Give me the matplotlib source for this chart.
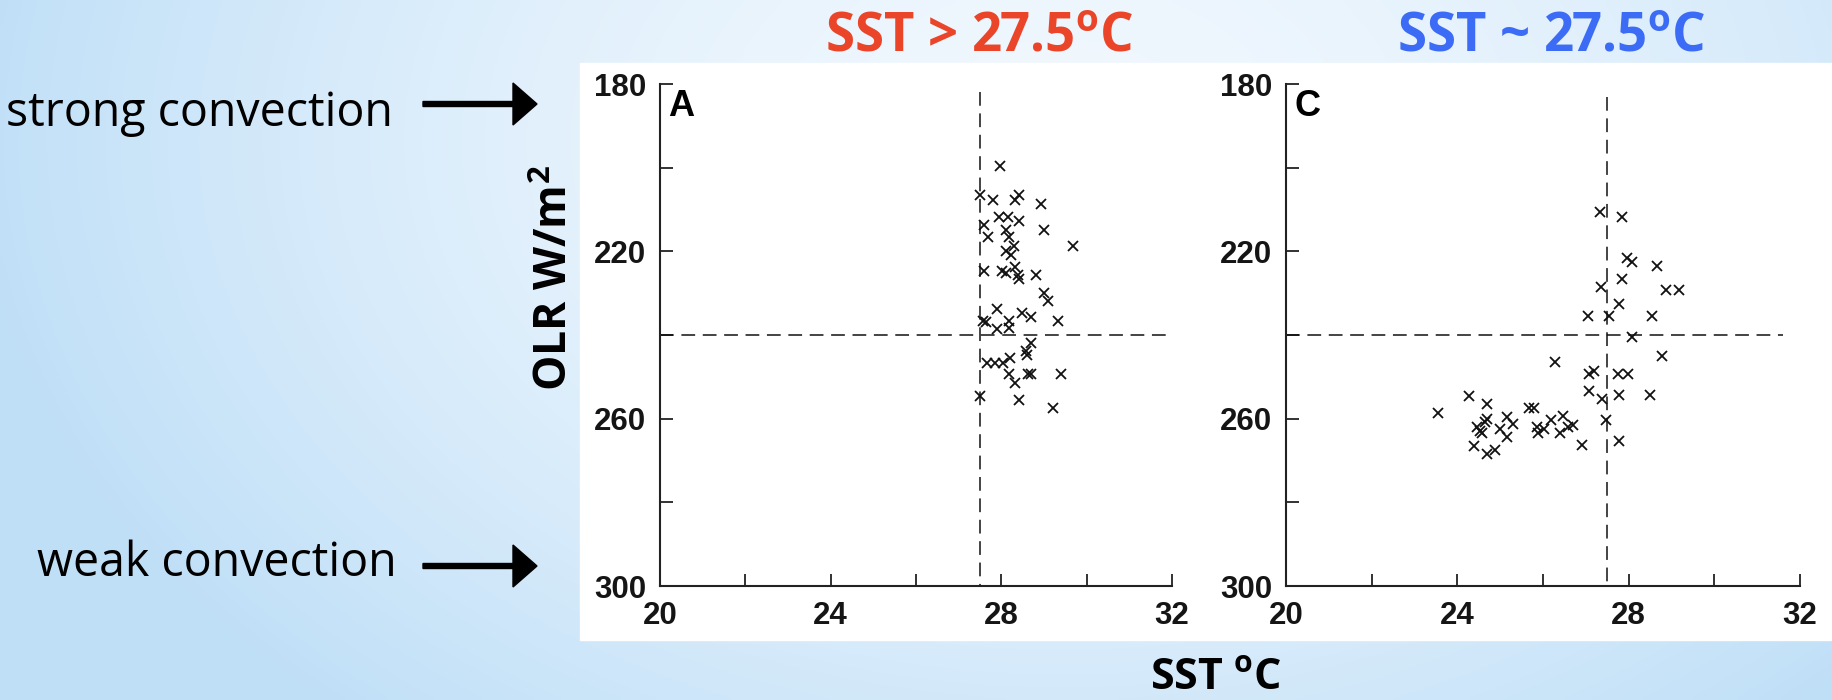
import numpy as np
import matplotlib.pyplot as plt

# Panel A: SST > 27.5 C
sst_a = [27.97, 27.49, 27.81, 28.32, 28.41, 28.92, 27.95, 28.16, 28.41, 27.60,
         28.11, 29.01, 27.69, 28.19, 29.69, 28.30, 28.11, 28.22, 27.60, 28.02,
         28.11, 28.32, 28.40, 28.42, 28.81, 29.01, 29.09, 27.91, 28.48, 28.70,
         29.32, 27.57, 27.65, 28.19, 27.90, 28.19, 28.70, 28.58, 28.60, 27.67,
         27.86, 28.05, 28.20, 28.19, 28.62, 28.70, 29.41, 28.32, 27.49, 28.41,
         29.20]
olr_a = [199.7, 206.6, 207.7, 207.7, 206.6, 208.8, 211.7, 211.7, 212.8, 213.8,
         214.9, 214.9, 216.5, 216.5, 218.7, 218.7, 220.0, 220.9, 224.6, 224.6,
         225.1, 223.7, 225.7, 226.5, 225.7, 229.9, 231.9, 233.7, 234.7, 235.6,
         236.7, 236.7, 236.9, 236.7, 238.6, 238.4, 241.8, 243.9, 244.7, 246.6,
         246.6, 246.6, 245.6, 249.4, 249.4, 249.4, 249.4, 251.5, 254.5, 255.5,
         257.4]

# Panel C: SST ~ 27.5 C
sst_c = [27.33, 27.84, 27.95, 28.07, 28.65, 27.85, 27.36, 28.86, 29.17, 27.78,
         27.06, 27.55, 28.55, 28.07, 28.78, 26.29, 27.18, 27.07, 27.76, 27.98,
         27.07, 27.38, 27.78, 28.50, 24.28, 24.69, 23.56, 25.68, 25.79, 27.47,
         24.69, 24.65, 25.17, 25.30, 25.00, 25.17, 24.53, 24.57, 24.45, 26.18,
         25.87, 25.89, 26.02, 26.47, 26.39, 26.58, 26.70, 26.90, 27.78, 24.38,
         24.69, 24.89]
olr_c = [210.7, 211.7, 221.5, 222.5, 223.5, 226.5, 228.6, 229.3, 229.3, 232.5,
         235.4, 235.4, 235.4, 240.4, 245.1, 246.5, 248.5, 249.3, 249.3, 249.3,
         253.4, 255.4, 254.4, 254.4, 254.7, 256.6, 258.6, 257.5, 257.5, 260.3,
         260.0, 260.8, 259.6, 261.3, 262.5, 264.5, 262.9, 263.5, 262.1, 260.3,
         261.9, 263.4, 262.4, 259.4, 263.4, 262.1, 261.4, 266.3, 265.3, 266.5,
         268.4, 267.5]

sst_threshold = 27.5
olr_threshold = 240

W, H = 1833, 700
fig = plt.figure(figsize=(W / 100, H / 100), dpi=100)

# pale blue slide background, pixel coordinates
bg = fig.add_axes([0, 0, 1, 1], zorder=-5)
bg.set_xlim(0, W)
bg.set_ylim(H, 0)
bg.axis('off')
xx, yy = np.meshgrid(np.linspace(0, 1, 400), np.linspace(0, 1, 160))
d = np.sqrt(((xx - 0.58) / 0.6) ** 2 + ((yy - 0.2) / 1.1) ** 2)
t = np.clip(d, 0, 1) ** 1.6
light = np.array([0.945, 0.972, 0.995])
blue = np.array([0.75, 0.875, 0.97])
grad = light * (1 - t[..., None]) + blue * t[..., None]
bg.imshow(grad, extent=[0, W, H, 0], aspect='auto', interpolation='bicubic')
bg.add_patch(plt.Rectangle((580, 63), 1251, 577, color='white', zorder=1))

sans = 'Open Sans'
bg.text(979, 38, 'SST > 27.5$^{\\mathdefault{o}}$C', color='#EA4529', fontsize=38,
        fontweight='bold', family=sans, ha='center', va='center', zorder=3)
bg.text(1551, 38, 'SST ~ 27.5$^{\\mathdefault{o}}$C', color='#3C6CF6', fontsize=38,
        fontweight='bold', family=sans, ha='center', va='center', zorder=3)

bg.text(393, 126, 'strong convection', fontsize=33.5, family=sans, ha='right',
        va='baseline', color='black', zorder=3)
bg.text(397, 576, 'weak convection', fontsize=33.5, family=sans, ha='right',
        va='baseline', color='black', zorder=3)
for ya in (104, 566):
    bg.arrow(423, ya, 114, 0, width=5, head_width=42, head_length=24,
             length_includes_head=True, color='black', zorder=3)

bg.text(556, 278, 'OLR W/m$^{\\mathdefault{2}}$', fontsize=32, fontweight='bold',
        family=sans, rotation=90, ha='center', va='center', zorder=3)
bg.text(1216, 690, 'SST $^{\\mathdefault{o}}$C', fontsize=31, fontweight='bold',
        family=sans, ha='center', va='baseline', zorder=3)


def panel(rect, sst, olr, letter, vtop, hright):
    ax = fig.add_axes(rect)
    ax.patch.set_alpha(0)
    ax.set_xlim(20, 32)
    ax.set_ylim(300, 180)
    for side in ('top', 'right'):
        ax.spines[side].set_visible(False)
    for side in ('left', 'bottom'):
        ax.spines[side].set_linewidth(1.5)
        ax.spines[side].set_color('#222222')
    ax.set_xticks(np.arange(20, 33, 2))
    ax.set_xticklabels(['20', '', '24', '', '28', '', '32'])
    ax.set_yticks(np.arange(180, 301, 20))
    ax.set_yticklabels(['180', '', '220', '', '260', '', '300'])
    ax.tick_params(direction='in', length=9, width=1.3, color='#222222',
                   labelsize=22.5, labelcolor='#151515')
    ax.tick_params(axis='x', pad=11)
    ax.tick_params(axis='y', pad=10)
    for lab in ax.get_xticklabels() + ax.get_yticklabels():
        lab.set_fontfamily('Liberation Sans')
        lab.set_fontweight('bold')

    ax.vlines(sst_threshold, vtop, 300, color='#111111', lw=1.1,
              linestyles=(0, (9, 5)))
    ax.hlines(olr_threshold, 20, hright, color='#111111', lw=1.1,
              linestyles=(0, (9, 5)))
    ax.plot(sst, olr, 'x', color='#111111', ms=6.5, mew=1.3, clip_on=False)
    ax.text(0.016, 0.99, letter, transform=ax.transAxes, fontsize=26,
            fontweight='bold', family='Liberation Sans', va='top', ha='left')
    return ax


ax_top, ax_bot = 84, 586
h = (ax_bot - ax_top) / H
panel([660 / W, 1 - ax_bot / H, 512 / W, h], sst_a, olr_a, 'A', 182, 32)
panel([1286 / W, 1 - ax_bot / H, 514 / W, h], sst_c, olr_c, 'C', 183, 31.6)

fig.savefig('out.png', dpi=100)
